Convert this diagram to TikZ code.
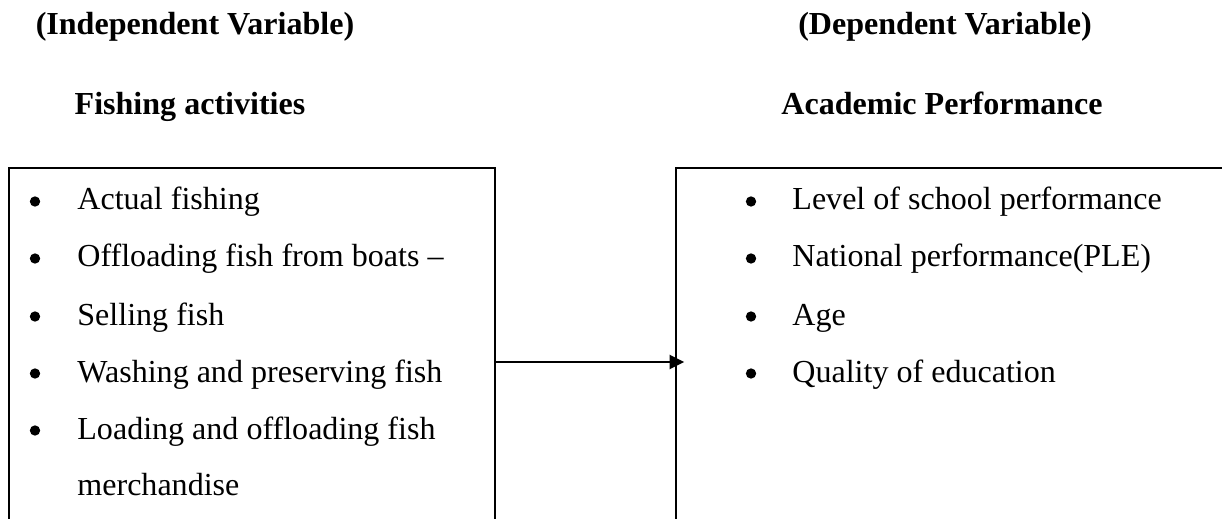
\documentclass[tikz,border=0pt]{standalone}
\usepackage{fontspec}
\setmainfont{Liberation Serif}
\usetikzlibrary{arrows.meta}

\begin{document}
\begin{tikzpicture}[
      x=0.017cm, y=-0.017cm,
      panel/.style={draw, line width=1pt, anchor=north west, inner sep=0pt,
                    minimum height=8cm},
      heading/.style={font=\fontsize{15.5}{18}\selectfont\bfseries, anchor=base},
      listtext/.style={font=\fontsize{15.5}{18}\selectfont, anchor=base west,
                       inner sep=0pt},
      listdot/.style={circle, fill, inner sep=0pt, minimum size=5pt},
      arr/.style={-{Triangle[length=7pt,width=6.8pt]}, line width=1pt}
    ]
    \useasboundingbox (0,0) rectangle (1222,519);
    \clip (0,0) rectangle (1222,519);

    % headings
    \node[heading] (indep) at (195,35) {(Independent Variable)};
    \node[heading] (dep)   at (945,35) {(Dependent Variable)};
    \node[heading] (fish)  at (190,115) {Fishing activities};
    \node[heading] (acad)  at (942,115) {Academic Performance};

    % the two boxes (cut off by the page edge)
    \node[panel, minimum width=8.262cm] (actbox)  at (8,167) {};
    \node[panel, minimum width=10cm]    (perfbox) at (675,167) {};

    % independent variable items
    \node[listdot] (d1) at (35,201.5) {};
    \node[listtext] (a1) at (77,210) {Actual fishing};
    \node[listdot] (d2) at (35,258.5) {};
    \node[listtext] (a2) at (77,267) {Offloading fish from boats –};
    \node[listdot] (d3) at (35,316.5) {};
    \node[listtext] (a3) at (77,325) {Selling fish};
    \node[listdot] (d4) at (35,373.5) {};
    \node[listtext] (a4) at (77,382) {Washing and preserving fish};
    \node[listdot] (d5) at (35,430.5) {};
    \node[listtext] (a5) at (77,439) {Loading and offloading fish};
    \node[listtext] (a6) at (77,495) {merchandise};

    % dependent variable items
    \node[listdot] (e1) at (751,201.5) {};
    \node[listtext] (b1) at (792,210) {Level of school performance};
    \node[listdot] (e2) at (751,258.5) {};
    \node[listtext] (b2) at (792,267) {National performance(PLE)};
    \node[listdot] (e3) at (751,316.5) {};
    \node[listtext] (b3) at (792,325) {Age};
    \node[listdot] (e4) at (751,373.5) {};
    \node[listtext] (b4) at (792,382) {Quality of education};

    \coordinate (arrowrow) at (0,362);
    \draw[arr, shorten >=-4.4pt] (actbox.east |- arrowrow) -- (perfbox.west |- arrowrow);
  \end{tikzpicture}
\end{document}
